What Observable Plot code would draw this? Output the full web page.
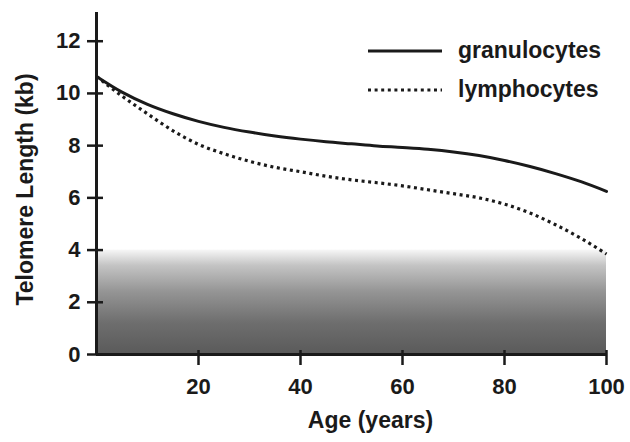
<!DOCTYPE html>
<html>
<head>
<meta charset="utf-8">
<script src="https://cdn.jsdelivr.net/npm/d3@7"></script>
<script src="https://cdn.jsdelivr.net/npm/@observablehq/plot@0.6"></script>
<style>
  html, body { margin: 0; padding: 0; background: #fff; }
  #wrap { position: relative; width: 630px; height: 442px; font-family: "Liberation Sans", Arial, sans-serif; }
  #legend { position: absolute; left: 368px; top: 31px; font-weight: bold; font-size: 23px; color: #1a1a1a; }
  #legend .row { display: flex; align-items: center; height: 39px; }
  #legend svg { margin-right: 16px; }
</style>
</head>
<body>
<div id="wrap"></div>
<script>
// ---- data ----
const ages = [0, 5, 10, 15, 20, 25, 30, 35, 40, 45, 50, 55, 60, 65, 70, 75, 80, 85, 90, 95, 100];
const granulocytes = [10.65, 10.05, 9.58, 9.22, 8.93, 8.7, 8.52, 8.37, 8.25, 8.15, 8.07, 7.99, 7.93, 7.86, 7.76, 7.62, 7.43, 7.2, 6.93, 6.62, 6.25];
const lymphocytes = [10.65, 9.9, 9.22, 8.57, 8.05, 7.69, 7.4, 7.17, 7.0, 6.83, 6.69, 6.58, 6.46, 6.31, 6.16, 6.0, 5.76, 5.42, 4.97, 4.45, 3.85];
const seriesNames = ["granulocytes", "lymphocytes"];
const xTicks = [20, 40, 60, 80, 100];
const yTicks = [0, 2, 4, 6, 8, 10, 12];
const criticalZone = [{from: 0, to: 100, top: 4}];

const rows = [];
ages.forEach((a, i) => {
  rows.push({age: a, len: granulocytes[i], series: seriesNames[0]});
  rows.push({age: a, len: lymphocytes[i], series: seriesNames[1]});
});

const font = "Liberation Sans, Arial, sans-serif";
const dots = "3,3.6";
const plot = Plot.plot({
  width: 630,
  height: 442,
  marginLeft: 96,
  marginRight: 24,
  marginTop: 12,
  marginBottom: 88,
  style: {fontFamily: font, fontWeight: "bold", color: "#1a1a1a", background: "transparent"},
  x: {domain: [0, 100]},
  y: {domain: [0, 13.1]},
  marks: [
    Plot.rect(criticalZone, {x1: "from", x2: "to", y1: 0, y2: "top", fill: "url(#zoneGrad)"}),
    Plot.ruleX([0], {stroke: "#1a1a1a", strokeWidth: 3}),
    Plot.ruleY([0], {stroke: "#1a1a1a", strokeWidth: 3}),
    Plot.axisY(yTicks, {anchor: "left", ticks: yTicks, tickSize: 9, tickPadding: 7, fontSize: 22, strokeWidth: 2.5, label: null}),
    Plot.axisY(yTicks, {anchor: "left", ticks: yTicks, tickSize: -7, text: null, strokeWidth: 2.5, label: null}),
    Plot.axisX(xTicks, {anchor: "bottom", ticks: xTicks, tickSize: 11, tickPadding: 13, fontSize: 22, strokeWidth: 2.5, label: null}),
    Plot.axisX(xTicks, {anchor: "bottom", ticks: xTicks, tickSize: -4, text: null, strokeWidth: 2.5, label: null}),
    Plot.line(rows.filter(d => d.series === seriesNames[0]), {x: "age", y: "len", stroke: "#1a1a1a", strokeWidth: 3, curve: "monotone-x"}),
    Plot.line(rows.filter(d => d.series === seriesNames[1]), {x: "age", y: "len", stroke: "#1a1a1a", strokeWidth: 3.2, strokeDasharray: dots, strokeLinecap: "butt", curve: "monotone-x"}),
    Plot.text(["Age (years)"], {frameAnchor: "bottom", dy: 73, dx: 19, fontSize: 23, fontWeight: "bold", fill: "#1a1a1a"}),
    Plot.text(["Telomere Length (kb)"], {frameAnchor: "left", textAnchor: "middle", dx: -71, dy: 6, rotate: -90, fontSize: 23, fontWeight: "bold", fill: "#1a1a1a"})
  ]
});

const svg = d3.select(plot);
const defs = svg.insert("defs", ":first-child");
const grad = defs.append("linearGradient").attr("id", "zoneGrad").attr("x1", 0).attr("y1", 0).attr("x2", 0).attr("y2", 1);
grad.append("stop").attr("offset", "0%").attr("stop-color", "#f7f7f7");
grad.append("stop").attr("offset", "15%").attr("stop-color", "#c4c4c4");
grad.append("stop").attr("offset", "40%").attr("stop-color", "#959595");
grad.append("stop").attr("offset", "70%").attr("stop-color", "#6e6e6e");
grad.append("stop").attr("offset", "100%").attr("stop-color", "#5a5a5a");

const wrap = document.getElementById("wrap");
wrap.appendChild(plot);

const legend = document.createElement("div");
legend.id = "legend";
seriesNames.forEach((name, i) => {
  const row = document.createElement("div");
  row.className = "row";
  row.innerHTML = `<svg width="74" height="8"><line x1="0" x2="74" y1="4" y2="4" stroke="#1a1a1a" stroke-width="3" ${i === 1 ? 'stroke-dasharray="' + dots + '"' : ''}/></svg><span>${name}</span>`;
  legend.appendChild(row);
});
wrap.appendChild(legend);
</script>
</body>
</html>
